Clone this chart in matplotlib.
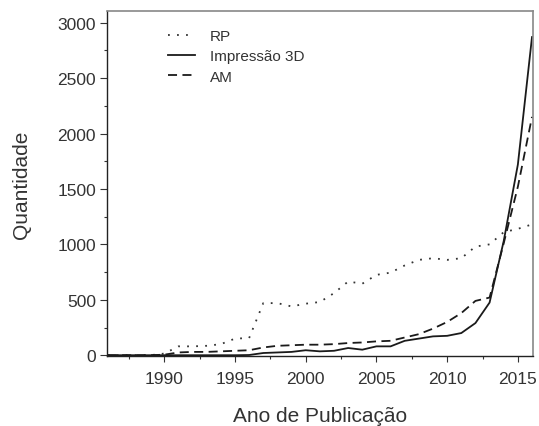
import matplotlib
matplotlib.use("Agg")
import matplotlib.pyplot as plt
from matplotlib.ticker import MultipleLocator

years = list(range(1986, 2017))
rp = [0, 0, 0, 0, 15, 80, 80, 85, 100, 150, 155, 470, 470, 440, 465,
      480, 560, 665, 645, 725, 745, 810, 860, 875, 860, 875, 980, 1000, 1110, 1140, 1180]
impressao_3d = [0, 0, 0, 0, 0, 0, 0, 0, 0, 0, 2, 20, 25, 30, 45,
                35, 40, 65, 50, 80, 80, 130, 150, 170, 175, 200, 290, 475, 1030, 1720, 2870]
am = [0, 0, 0, 0, 5, 25, 30, 30, 35, 40, 45, 70, 85, 90, 95,
      95, 100, 110, 115, 125, 130, 160, 190, 240, 300, 380, 490, 520, 1010, 1520, 2150]

plt.rcParams['font.family'] = ['Liberation Sans', 'DejaVu Sans']

fig = plt.figure(figsize=(5.39, 4.27), dpi=100)
ax = fig.add_axes([107/539, 1-357/427, (533-107)/539, (357-12)/427])

lc = '#1a1a1a'
ax.plot(years, rp, color='#333333', lw=1.3, linestyle=(0, (1, 4)), label='RP')
ax.plot(years, impressao_3d, color=lc, lw=1.3, linestyle='-', label='Impressão 3D')
ax.plot(years, am, color=lc, lw=1.3, linestyle=(0, (5, 3)), label='AM')

ax.set_xlim(1985.95, 2016.07)
ax.set_ylim(-7, 3105)
ax.xaxis.set_major_locator(MultipleLocator(5))
ax.xaxis.set_minor_locator(MultipleLocator(2.5))
ax.yaxis.set_major_locator(MultipleLocator(500))
ax.yaxis.set_minor_locator(MultipleLocator(250))

tc = '#333333'
ax.tick_params(which='major', direction='out', length=5, width=0.8, labelsize=12.5, colors=tc)
ax.tick_params(which='minor', direction='out', length=2, width=0.8, colors=tc)
ax.tick_params(axis='x', which='major', pad=6.5, length=4)
ax.tick_params(axis='y', which='major', pad=3)

for s in ['left', 'bottom']:
    ax.spines[s].set_color('#222222')
    ax.spines[s].set_linewidth(1.0)
for s in ['top', 'right']:
    ax.spines[s].set_color('#888888')
    ax.spines[s].set_linewidth(1.2)

ax.set_xlabel('Ano de Publicação', fontsize=15, color=tc, labelpad=15)
ax.set_ylabel('Quantidade', fontsize=15, color=tc, labelpad=19)

leg = ax.legend(loc='upper left', bbox_to_anchor=(0.111, 0.988), frameon=False,
                fontsize=11, handlelength=1.75, labelspacing=0.42, handletextpad=1.0)
for t in leg.get_texts():
    t.set_color(tc)

fig.savefig('out.png', dpi=100)
